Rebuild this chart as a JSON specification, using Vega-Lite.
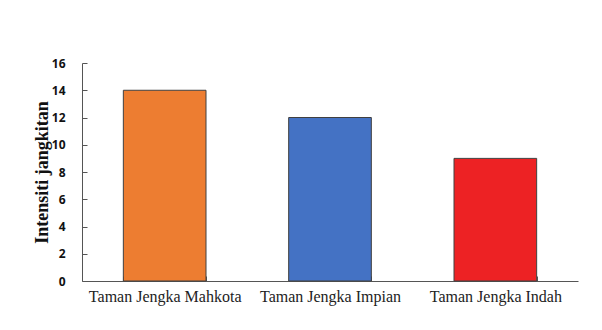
{
  "$schema": "https://vega.github.io/schema/vega-lite/v6.json",
  "width": 496,
  "height": 218,
  "autosize": {"type": "none"},
  "padding": {"left": 82, "top": 63, "right": 24, "bottom": 49},
  "background": "white",
  "data": {"values": [
    {"lokasi": "Taman Jengka Mahkota", "intensiti": 14},
    {"lokasi": "Taman Jengka Impian", "intensiti": 12},
    {"lokasi": "Taman Jengka Indah", "intensiti": 9}
  ]},
  "mark": {"type": "bar", "stroke": "#404040", "strokeWidth": 1},
  "encoding": {
    "x": {
      "field": "lokasi", "type": "nominal", "sort": null,
      "scale": {"paddingInner": 0.5, "paddingOuter": 0.25},
      "axis": {
        "title": null, "labelAngle": 0, "tickBand": "extent", "tickSize": -5,
        "labelFont": "Liberation Serif", "labelFontSize": 16, "labelColor": "#222",
        "labelPadding": 12, "domainColor": "#555", "tickColor": "#555", "grid": false
      }
    },
    "y": {
      "field": "intensiti", "type": "quantitative",
      "scale": {"domain": [0, 16]},
      "axis": {
        "title": "Intensiti jangkitan", "titleFont": "Liberation Serif", "titleFontSize": 18,
        "titleFontWeight": "bold", "titleColor": "#111", "titlePadding": 0,
        "values": [0, 2, 4, 6, 8, 10, 12, 14, 16], "tickSize": -5, "grid": false,
        "labelFont": "Open Sans", "labelFontWeight": "bold", "labelFontSize": 12,
        "labelColor": "#111", "labelPadding": 22, "domainColor": "#555", "tickColor": "#555"
      }
    },
    "color": {
      "field": "lokasi", "type": "nominal", "legend": null,
      "scale": {
        "domain": ["Taman Jengka Mahkota", "Taman Jengka Impian", "Taman Jengka Indah"],
        "range": ["#ED7D31", "#4472C4", "#ED2224"]
      }
    }
  },
  "config": {"view": {"stroke": null}}
}
